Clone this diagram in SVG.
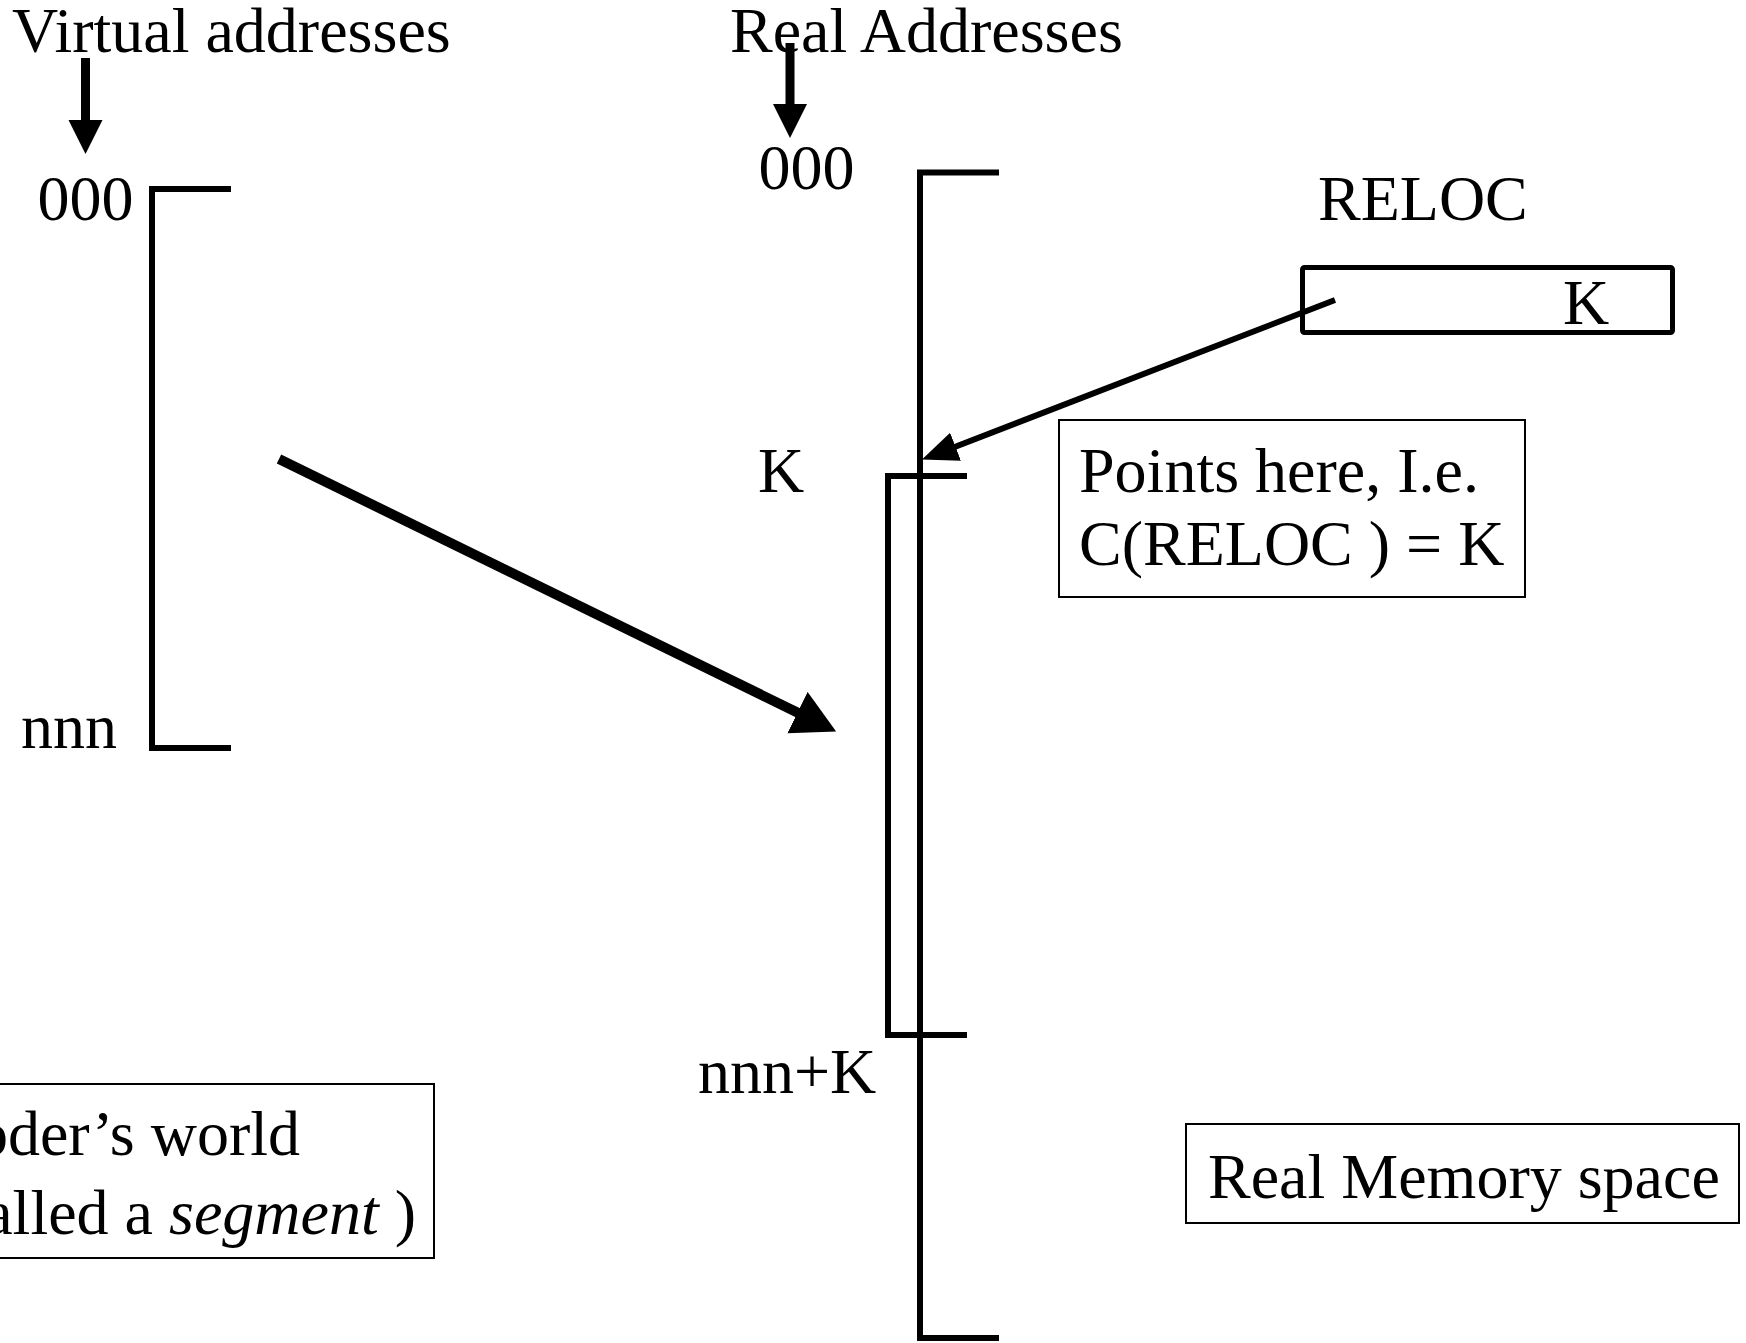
<svg xmlns="http://www.w3.org/2000/svg" width="1746" height="1343" viewBox="0 0 1746 1343">
  <style>
    text { font-family: "Liberation Serif", "Times New Roman", serif; font-size: 64px; fill: #000; }
    .bracket { fill: none; stroke: #000; stroke-width: 6; stroke-linejoin: miter; }
    .thin { fill: #fff; stroke: #000; stroke-width: 2; }
    .reg { fill: #fff; stroke: #000; stroke-width: 5; stroke-linejoin: round; }
    .shaft { fill: none; stroke: #000; }
  </style>
  <defs>
    <!-- arrowheads: base at refX=0, tip at the far end -->
    <marker id="head-down" markerUnits="userSpaceOnUse" markerWidth="36" markerHeight="36" refX="1" refY="17" orient="auto">
      <path d="M0,0 L34,17 L0,34 Z" fill="#000"/>
    </marker>
    <marker id="head-reloc" markerUnits="userSpaceOnUse" markerWidth="40" markerHeight="32" refX="1" refY="15" orient="auto">
      <path d="M0,0 L36,15 L0,30 Z" fill="#000"/>
    </marker>
    <marker id="head-big" markerUnits="userSpaceOnUse" markerWidth="46" markerHeight="48" refX="1" refY="23" orient="auto">
      <path d="M0,0 L43,23 L0,46 Z" fill="#000"/>
    </marker>
  </defs>

  <rect width="1746" height="1343" fill="#fff"/>

  <!-- virtual address column -->
  <g id="virtual-space">
    <text x="12" y="52">Virtual addresses</text>
    <text x="37.5" y="220">000</text>
    <text x="21" y="748">nnn</text>
    <polyline class="bracket" points="231,189 152,189 152,748 231,748"/>
  </g>

  <!-- real address column -->
  <g id="real-space">
    <text x="730" y="52">Real Addresses</text>
    <text x="758.5" y="189">000</text>
    <text x="758" y="492">K</text>
    <text x="698" y="1093">nnn+K</text>
    <polyline class="bracket" points="999,172.5 920,172.5 920,1338 999,1338"/>
  </g>

  <!-- relocated segment inside real memory -->
  <g id="segment">
    <polyline class="bracket" points="967,476 888,476 888,1035 967,1035"/>
  </g>

  <!-- relocation register -->
  <g id="reloc-register">
    <text x="1318" y="220">RELOC</text>
    <rect class="reg" x="1302.5" y="267.5" width="370" height="65" rx="2"/>
    <text x="1563" y="324">K</text>
  </g>

  <g id="points-note">
    <rect class="thin" x="1059" y="420" width="466" height="177"/>
    <text x="1079" y="492">Points here, I.e.</text>
    <text x="1079" y="565">C(RELOC ) = K</text>
  </g>

  <g id="coder-note">
    <rect class="thin" x="-10" y="1084" width="444" height="174"/>
    <text x="300" y="1155" text-anchor="end">oder’s world</text>
    <text x="416" y="1234" text-anchor="end">alled a <tspan font-style="italic">segment</tspan> )</text>
  </g>

  <g id="memory-note">
    <rect class="thin" x="1186" y="1124" width="553" height="99"/>
    <text x="1208" y="1198">Real Memory space</text>
  </g>

  <g id="connectors">
    <line class="shaft" stroke-width="9" x1="85.5" y1="58" x2="85.5" y2="121" marker-end="url(#head-down)"/>
    <line class="shaft" stroke-width="9" x1="790" y1="43" x2="790" y2="105" marker-end="url(#head-down)"/>
    <line class="shaft" stroke-width="6" x1="1335" y1="300" x2="954.6" y2="447" marker-end="url(#head-reloc)"/>
    <line class="shaft" stroke-width="10" x1="279" y1="459" x2="798.4" y2="713" marker-end="url(#head-big)"/>
  </g>
</svg>
